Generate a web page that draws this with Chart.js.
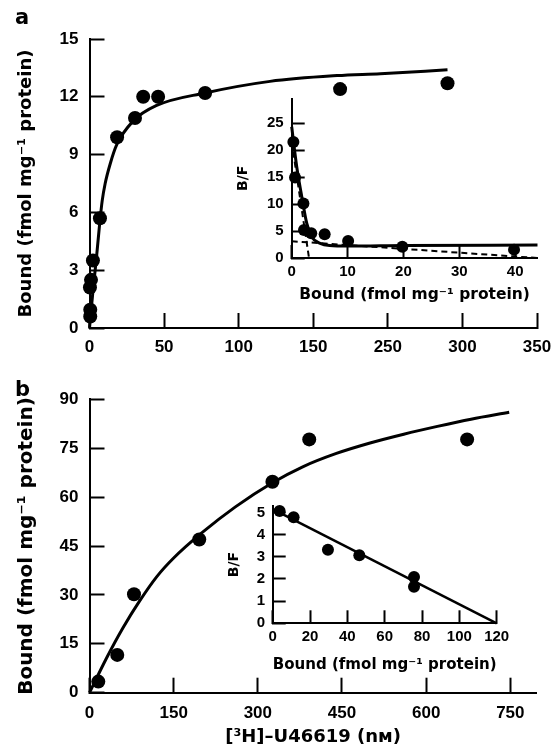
<!DOCTYPE html>
<html>
<head>
<meta charset="utf-8">
<script src="https://cdn.jsdelivr.net/npm/chart.js@4.4.1/dist/chart.umd.min.js"></script>
<style>
  html, body { margin: 0; padding: 0; background: #fff; }
  #page { position: relative; width: 556px; height: 751px; overflow: hidden; }
  canvas { position: absolute; }
  .panel { position: absolute; font: bold 21px "DejaVu Sans"; line-height: 21px; color: #000; }
</style>
</head>
<body>
<div id="page">
  <canvas id="mainA" width="556" height="370" style="left:0;top:0"></canvas>
  <canvas id="insetA" width="326" height="225" style="left:230px;top:85px"></canvas>
  <canvas id="mainB" width="556" height="381" style="left:0;top:370px"></canvas>
  <canvas id="insetB" width="320" height="185" style="left:210px;top:495px"></canvas>
  <div class="panel" style="left:15px;top:7px">a</div>
  <div class="panel" style="left:15px;top:379px">b</div>
</div>
<script>
// panel a: saturation data (x axis drawn 0..300, labelled as in the figure)
const aXTickLabels = ['0', '50', '100', '150', '250', '300', '350'];
const aX = [0.5, 0.5, 0.3, 1.0, 2.3, 7, 18.5, 30.5, 36, 46, 77.5, 168, 240];
const aY = [0.6, 0.95, 2.1, 2.5, 3.5, 5.7, 9.9, 10.9, 12.0, 12.0, 12.2, 12.4, 12.7];
const aFitX = [0, 2.3, 4.6, 6.8, 8.5, 10.5, 13.8, 18.2, 29.4, 45, 77.5, 121, 166, 195, 240];
const aFitY = [0, 1.9, 3.6, 5.4, 6.6, 7.5, 8.5, 9.5, 10.75, 11.55, 12.2, 12.8, 13.1, 13.2, 13.4];

// panel a inset: Scatchard plot
const aInX = [0.3, 0.6, 2.1, 2.2, 3.5, 5.9, 10.1, 19.8, 39.8];
const aInY = [21.5, 14.9, 10.1, 5.2, 4.6, 4.4, 3.15, 2.1, 1.55];
const aInFitX = [0, 0.9, 1.8, 2.7, 3.6, 5.1, 6.8, 10, 20, 44];
const aInFitY = [24.3, 16.9, 11.4, 6.4, 3.9, 2.7, 2.3, 2.2, 2.3, 2.4];
const aInHighX = [0, 3.1];
const aInHighY = [21.5, 0];
const aInLowX = [0, 44];
const aInLowY = [3.1, 0];

// panel b: saturation data
const bX = [15.7, 49.5, 79.3, 195.6, 326, 391.6, 673];
const bY = [3.4, 11.6, 30.2, 47.0, 64.7, 77.7, 77.7];
const bFitX = [0, 30, 60, 90, 120, 150, 200, 260, 326, 380, 440, 500, 560, 620, 680, 748];
const bFitY = [0, 10.5, 20.0, 28.3, 35.6, 41.3, 49.0, 57.0, 64.4, 69.3, 73.4, 76.6, 79.3, 81.7, 83.9, 86.0];

// panel b inset: Scatchard plot
const bInX = [3.7, 11.2, 29.6, 46.4, 75.7, 75.7];
const bInY = [5.07, 4.78, 3.32, 3.07, 2.09, 1.65];
const bInFitX = [0, 120];
const bInFitY = [5.15, 0];

const pts = (xs, ys) => xs.map((x, i) => ({x: x, y: ys[i]}));

const tickFont = size => ({family: 'Liberation Sans', weight: 'bold', size: size});
const titleFont = size => ({family: 'DejaVu Sans', weight: 'bold', size: size});

function dots(data, r) {
    return {data: data, showLine: false, pointRadius: r, pointHoverRadius: r,
        pointBackgroundColor: '#000', pointBorderWidth: 0, clip: false};
}
function curve(data, w, dash) {
    return {data: data, showLine: true, pointRadius: 0, borderColor: '#000', borderWidth: w,
        borderDash: dash || [], cubicInterpolationMode: 'monotone', clip: false};
}

// tick marks only, pointing into the plot (negative tick length)
const innerGrid = len => ({display: true, drawOnChartArea: false, drawTicks: true,
    tickLength: -len, tickWidth: 2, tickColor: '#000'});

// fixed axis box size, and no extra room reserved for overhanging labels
function fixBox(s, w, h) {
    if (w !== null) s.width = w;
    if (h !== null) s.height = h;
    s.paddingLeft = s.paddingRight = s.paddingTop = s.paddingBottom = 0;
}

function build(id, datasets, o) {
    return new Chart(document.getElementById(id), {
        type: 'scatter',
        data: {datasets: datasets},
        options: {
            responsive: false,
            animation: false,
            devicePixelRatio: 1,
            layout: {padding: o.pad},
            plugins: {legend: {display: false}, tooltip: {enabled: false}},
            scales: {
                x: {
                    type: 'linear', min: o.x[0], max: o.x[1],
                    grid: innerGrid(o.tickLen), border: {display: true, color: '#000', width: 2},
                    ticks: {stepSize: o.x[2], includeBounds: false, color: '#000', font: tickFont(o.tickSize),
                        padding: o.xPad + o.tickLen, maxRotation: 0, autoSkip: false,
                        callback: o.xLabels ? (v, i) => o.xLabels[i] : (v => v)},
                    title: o.xTitle ? {display: true, text: o.xTitle[0], color: '#000', font: titleFont(o.xTitle[1]),
                        padding: {top: 0, bottom: o.xTitle[2]}} : {display: false},
                    afterFit: s => fixBox(s, null, o.xH)
                },
                y: {
                    type: 'linear', min: o.y[0], max: o.y[1],
                    grid: innerGrid(o.tickLen), border: {display: true, color: '#000', width: 2},
                    ticks: {stepSize: o.y[2], includeBounds: false, color: '#000', font: tickFont(o.tickSize),
                        padding: o.yPad + o.tickLen, autoSkip: false},
                    title: o.yTitle ? {display: true, text: o.yTitle[0], color: '#000', font: titleFont(o.yTitle[1]),
                        padding: {top: o.yTitle[2], bottom: 0}} : {display: false},
                    afterFit: s => fixBox(s, o.yW, null)
                }
            }
        }
    });
}

const boundLabel = 'Bound (fmol mg\u207B\u00B9 protein)';

build('mainA', [dots(pts(aX, aY), 7), curve(pts(aFitX, aFitY), 3)], {
    pad: {left: 0, top: 39, right: 19, bottom: 0},
    x: [0, 300, 50], y: [0, 15, 3], xLabels: aXTickLabels,
    xH: 42, yW: 89.5, tickLen: 15, tickSize: 17, xPad: 9, yPad: 11,
    yTitle: [boundLabel, 18, 16]
});

build('insetA', [
    dots(pts(aInX, aInY), 6),
    curve(pts(aInFitX, aInFitY), 3),
    curve(pts(aInHighX, aInHighY), 2, [6, 4]),
    curve(pts(aInLowX, aInLowY), 2, [6, 4])
], {
    pad: {left: 0, top: 13.7, right: 18.5, bottom: 0},
    x: [0, 44, 10], y: [0, 29.5, 5],
    xH: 52, yW: 61.7, tickLen: 13, tickSize: 15, xPad: 4.5, yPad: 8,
    xTitle: [boundLabel, 15.5, 5.5],
    yTitle: ['B/F', 14, 4.5]
});

build('mainB', [dots(pts(bX, bY), 7), curve(pts(bFitX, bFitY), 3)], {
    pad: {left: 0, top: 29.3, right: 19.3, bottom: 0},
    x: [0, 797, 150], y: [0, 90, 15],
    xH: 58.3, yW: 89.5, tickLen: 15, tickSize: 17, xPad: 10, yPad: 11,
    xTitle: ['[\u00B3H]\u2013U46619 (n\u1D0D)', 18, 3.2],
    yTitle: [boundLabel, 20, 14.7]
});

build('insetB', [dots(pts(bInX, bInY), 6), curve(pts(bInFitX, bInFitY), 2.5)], {
    pad: {left: 0, top: 10.8, right: 33.3, bottom: 0},
    x: [0, 120, 20], y: [0, 5.3, 1],
    xH: 56.7, yW: 62.7, tickLen: 13, tickSize: 15, xPad: 4.4, yPad: 7.7,
    xTitle: [boundLabel, 15.5, 5.4],
    yTitle: ['B/F', 14, 16]
});
</script>
</body>
</html>
